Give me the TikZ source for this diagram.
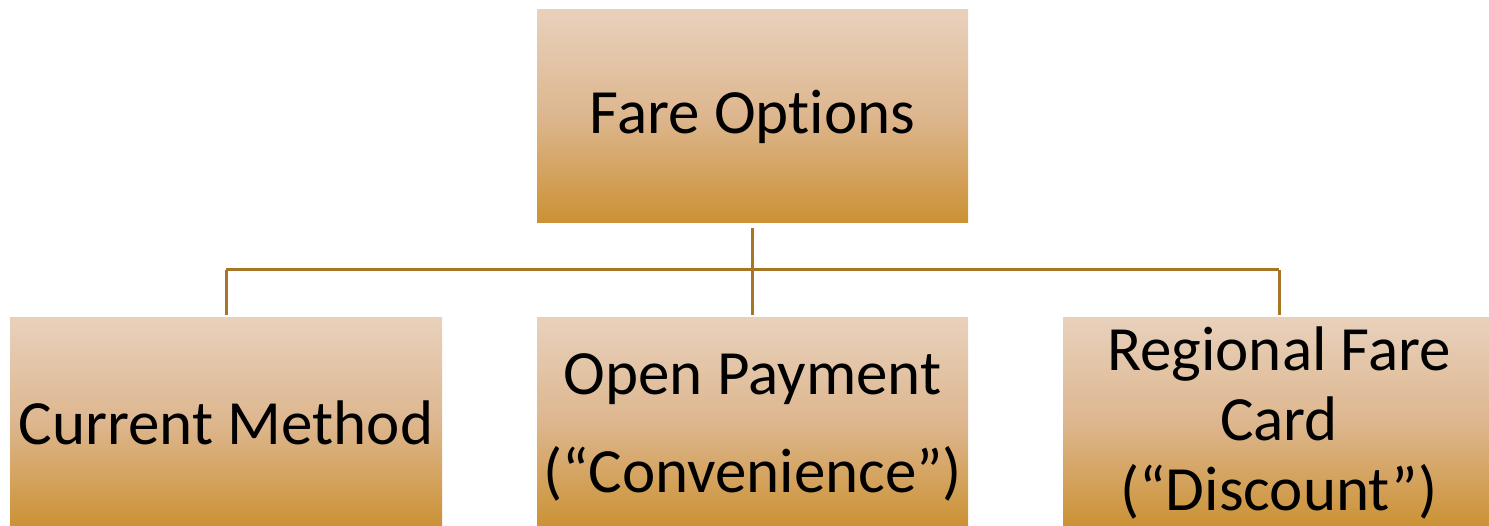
\documentclass[tikz,border=0pt]{standalone}
\usepackage{fontspec}
\setmainfont{Carlito}[Ligatures={NoCommon}]
\definecolor{boxtop}{HTML}{E8D1BC}
\definecolor{boxmid}{HTML}{DDB68E}
\definecolor{boxbot}{HTML}{CB9133}
\definecolor{linec}{HTML}{A87526}
\tikzset{
  fbox/.style={rectangle, inner sep=0pt, align=center, text=black,
    top color=boxtop, bottom color=boxbot, middle color=boxmid,
    font=\fontsize{63}{70}\selectfont},
  conn/.style={draw=linec, line width=3pt}
}
\begin{document}
\begin{tikzpicture}[x=1pt,y=-1pt]
\useasboundingbox (0,0) rectangle (1489,526);
\clip (0,0) rectangle (1489,526);
\node[fbox, minimum width=431pt, minimum height=213pt] (top) at (752.5,116.5) {Fare Options};
\node[fbox, minimum width=432pt, minimum height=210pt] (cur) at (226,423) {Current Method};
\node[fbox, minimum width=431pt, minimum height=210pt, text depth=0pt] (open) at (752.5,423) {Open Payment\\[28pt](“Convenience”)};
\node[fbox, minimum width=432pt, minimum height=210pt, text depth=8pt] (reg) at (1279,423) {Regional Fare\\Card\\(“Discount”)};
\coordinate (bus) at (752.5,270);
\draw[conn, shorten <=5pt] (top.south) -- (bus);
\draw[conn] (bus -| cur.north) -- (bus -| reg.north);
\draw[conn, shorten >=3pt] (bus -| cur.north) -- (cur.north);
\draw[conn, shorten >=3pt] (bus) -- (open.north);
\draw[conn, shorten >=3pt] (bus -| reg.north) -- (reg.north);
\end{tikzpicture}
\end{document}
